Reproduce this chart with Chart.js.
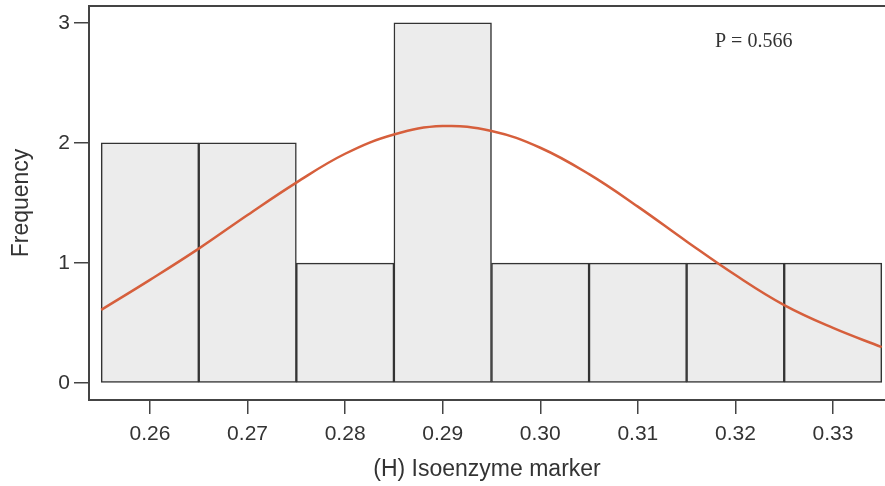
<!DOCTYPE html>
<html>
<head>
<meta charset="utf-8">
<script src="https://cdn.jsdelivr.net/npm/chart.js"></script>
<style>
  body { margin: 0; background: #fff; }
  #wrap { width: 885px; height: 486px; }
</style>
</head>
<body>
<div id="wrap"><canvas id="histo" width="885" height="486"></canvas></div>
<script>
// histogram bins (centres) and counts
const binCenters = [0.26, 0.27, 0.28, 0.29, 0.30, 0.31, 0.32, 0.33];
const frequencies = [2, 2, 1, 3, 1, 1, 1, 1];

// fitted normal curve
const curveX = [0.255, 0.26, 0.265, 0.27, 0.275, 0.28, 0.285, 0.29, 0.295, 0.30,
                0.305, 0.31, 0.315, 0.32, 0.325, 0.33, 0.335];
const curveY = [0.61, 0.86, 1.12, 1.40, 1.67, 1.91, 2.07, 2.14, 2.10, 1.96,
                1.74, 1.47, 1.18, 0.90, 0.65, 0.46, 0.30];

const xTicks = [0.26, 0.27, 0.28, 0.29, 0.30, 0.31, 0.32, 0.33];
const yTicks = [0, 1, 2, 3];
const pLabel = "P = 0.566";

const axisColor = "#444";
const textColor = "#333";
const sans = "'Liberation Sans', Arial, sans-serif";

// top frame line + P value note
const framePlugin = {
  id: "frame",
  afterDraw(chart) {
    const { ctx, chartArea } = chart;
    ctx.save();
    ctx.strokeStyle = axisColor;
    ctx.lineWidth = 2;
    ctx.beginPath();
    ctx.moveTo(chartArea.left - 1, chartArea.top);
    ctx.lineTo(chartArea.right, chartArea.top);
    ctx.stroke();

    ctx.fillStyle = textColor;
    ctx.font = "20px 'Liberation Serif', 'Times New Roman', serif";
    ctx.textBaseline = "alphabetic";
    ctx.textAlign = "left";
    ctx.fillText(pLabel, 715, 47);
    ctx.restore();
  },
};

new Chart(document.getElementById("histo"), {
  type: "bar",
  data: {
    datasets: [
      {
        type: "line",
        data: curveX.map((x, i) => ({ x: x, y: curveY[i] })),
        borderColor: "#d65f3c",
        borderWidth: 2.5,
        pointRadius: 0,
        tension: 0.4,
        order: 0,
      },
      {
        type: "bar",
        data: binCenters.map((x, i) => ({ x: x, y: frequencies[i] })),
        backgroundColor: "#ececec",
        borderColor: "#333",
        borderWidth: 1.5,
        borderSkipped: false,
        barPercentage: 1,
        categoryPercentage: 1,
        order: 1,
      },
    ],
  },
  options: {
    responsive: false,
    animation: false,
    layout: { padding: { top: 6, right: 0, left: 0, bottom: 0 } },
    plugins: { legend: { display: false }, tooltip: { enabled: false } },
    scales: {
      x: {
        type: "linear",
        offset: false,
        min: 0.25375,
        max: 0.33533,
        afterBuildTicks: (scale) => {
          scale.ticks = xTicks.map((v) => ({ value: v }));
        },
        afterFit: (scale) => {
          scale.height = 86;
          scale.paddingLeft = 0;
          scale.paddingRight = 0;
        },
        ticks: {
          color: textColor,
          font: { family: sans, size: 21 },
          padding: 8,
          maxRotation: 0,
          callback: (v) => Number(v).toFixed(2),
        },
        grid: {
          offset: false,
          drawOnChartArea: false,
          tickLength: 14,
          tickColor: axisColor,
          lineWidth: 1.5,
        },
        border: { color: axisColor, width: 2 },
        title: {
          display: true,
          text: "(H) Isoenzyme marker",
          color: textColor,
          font: { family: sans, size: 23 },
          padding: { top: 0, bottom: 3 },
        },
      },
      y: {
        min: -0.14,
        max: 3.14,
        afterBuildTicks: (scale) => {
          scale.ticks = yTicks.map((v) => ({ value: v }));
        },
        afterFit: (scale) => {
          scale.width = 89;
          scale.paddingTop = 0;
          scale.paddingBottom = 0;
        },
        ticks: {
          color: textColor,
          font: { family: sans, size: 21 },
          padding: 4,
        },
        grid: {
          drawOnChartArea: false,
          tickLength: 15,
          tickColor: axisColor,
          lineWidth: 1.5,
        },
        border: { color: axisColor, width: 2 },
        title: {
          display: true,
          text: "Frequency",
          color: textColor,
          font: { family: sans, size: 23 },
          padding: { top: 8, bottom: 0 },
        },
      },
    },
  },
  plugins: [framePlugin],
});
</script>
</body>
</html>
